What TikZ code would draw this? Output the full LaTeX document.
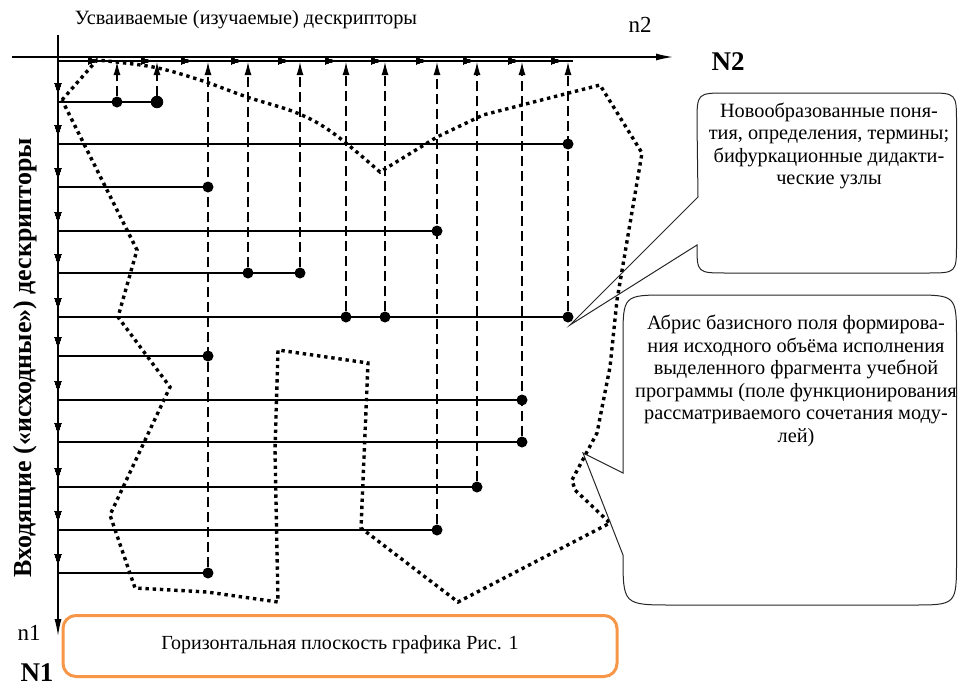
\documentclass[tikz,border=0pt]{standalone}
\usepackage{fontspec}
\setmainfont{Liberation Serif}
\usetikzlibrary{arrows.meta,decorations.markings}
\definecolor{boxorange}{HTML}{F79646}
\begin{document}
\begin{tikzpicture}[x=1pt,y=-1pt,
  axis/.style={line width=1.3pt},
  hline/.style={line width=1.1pt},
  dotn/.style={circle,fill=black,inner sep=0pt,minimum size=11pt},
  vdash/.style={line width=1.1pt,dash pattern=on 10pt off 5pt,-{Latex[length=13pt,width=7pt]}},
  contour/.style={line width=3.4pt,dash pattern=on 3.4pt off 3.8pt},
  callout/.style={line width=1pt,draw=black!85},
  ctext/.style={align=center,font=\fontsize{20.3}{22.5}\selectfont,inner sep=0pt},
  lbl/.style={inner sep=0pt,font=\fontsize{20.3}{22}\selectfont},
  nlbl/.style={inner sep=0pt,font=\fontsize{23}{25}\selectfont},
  blbl/.style={inner sep=0pt,font=\fontsize{27}{30}\selectfont\bfseries},
  sa/.style={postaction={decorate},decoration={markings,mark=at position #1 with {\arrow{Latex[length=12pt,width=7pt]}}}},
]
\useasboundingbox (0,0) rectangle (958,688);

% dotted contour
\draw[contour] (62,100) -- plot[smooth,tension=0.6] coordinates {(97,60) (153,67) (200,80) (247,97) (297,113) (333,133) (380,172)}
  -- (437,137) -- (483,115) -- (600,85) -- (642,153) -- (617,300) -- (610,367) -- (597,433) -- (572,480) -- (575,490)
  -- (610,523) -- (458,602) -- (361,528) -- (368,363) -- (278,350) -- (275,450) -- (278,602) -- (207,592) -- (135,588)
  -- (110,515) -- (170,387) -- (118,317) -- (137,250) -- cycle;

% axes
\coordinate (h0) at (12,57);
\coordinate (h1) at (673,57);
\draw[axis,-{Latex[length=17pt,width=7pt]}] (h0) -- (h1);
\coordinate (s0) at (58,61);
\coordinate (s1) at (573,61);
\draw[hline,sa=42pt,sa=95pt,sa=135pt,sa=185pt,sa=232pt,sa=279pt,sa=325pt,sa=370pt,sa=417pt,sa=462pt,sa=505pt] (s0) -- (s1);
\coordinate (v0) at (58,35);
\coordinate (v1) at (58,636);
\draw[axis,-{Latex[length=17pt,width=7pt]},sa=60pt,sa=102pt,sa=145pt,sa=189pt,sa=231pt,sa=275pt,sa=314pt,sa=358pt,sa=400pt,sa=445pt,sa=488pt,sa=531pt] (v0) -- (v1);

% dots
\node[dotn] (d1a) at (117,102) {};
\node[dotn,minimum size=12.5pt] (d1b) at (157,102) {};
\node[dotn] (d2) at (568,144) {};
\node[dotn] (d3) at (208,187) {};
\node[dotn] (d4) at (437,231) {};
\node[dotn] (d5a) at (248,273) {};
\node[dotn] (d5b) at (300,273) {};
\node[dotn] (d6a) at (346,317) {};
\node[dotn] (d6b) at (385,317) {};
\node[dotn] (d6c) at (568,317) {};
\node[dotn] (d7) at (208,356) {};
\node[dotn] (d8) at (522,400) {};
\node[dotn] (d9) at (522,442) {};
\node[dotn] (d10) at (477,487) {};
\node[dotn] (d11) at (437,530) {};
\node[dotn] (d12) at (208,573) {};

% horizontal lines
\foreach \y/\d in {102/d1b,144/d2,187/d3,231/d4,273/d5b,317/d6c,356/d7,400/d8,442/d9,487/d10,530/d11,573/d12}{
  \coordinate (a\d) at (58,\y);
  \draw[hline] (a\d) -- (\d.center);
}

% dashed up arrows
\foreach \x/\d in {117/d1a,157/d1b,208/d12,248/d5a,300/d5b,346/d6a,385/d6b,437/d11,477/d10,522/d9,568/d6c}{
  \coordinate (t\d) at (\x,62);
  \draw[vdash] (\d) -- (t\d);
}

% labels
\node[lbl] (top) at (246,20) {Усваиваемые (изучаемые) дескрипторы};
\node[nlbl] (n2) at (640,25) {n2};
\node[blbl] (N2) at (728,62) {N2};
\node[nlbl] (n1) at (29,633) {n1};
\node[blbl] (N1) at (37,673) {N1};
\node[inner sep=0pt,rotate=90,font=\fontsize{26}{28}\selectfont\bfseries] (vl) at (25,358) {Входящие («исходные») дескрипторы};

% bottom box
\node[draw=boxorange,line width=3pt,rounded corners=13pt,minimum width=554pt,minimum height=61pt,inner sep=0pt,font=\fontsize{20}{22}\selectfont] (hb) at (340,646) {\raisebox{6pt}{Горизонтальная плоскость графика Рис. 1}};

% callouts
\coordinate (p1) at (570,325);
\draw[callout] (698,197) -- (697,123) .. controls (697,93) .. (727,93) -- (927,93) .. controls (956.5,93) .. (956.5,123)
  -- (956.5,243) .. controls (956.5,273) .. (927,273) -- (727,273) .. controls (697,273) .. (697,245) -- (p1) -- cycle;
\node[ctext] (c1) at (829,146) {Новообразованные поня-\\тия, определения, термины;\\бифуркационные дидакти-\\ческие узлы};

\coordinate (p2) at (583,453);
\draw[callout] (623,473) -- (623,340) .. controls (623,295) .. (668,295) -- (912,295) .. controls (956.5,295) .. (956.5,340)
  -- (956.5,560) .. controls (956.5,605) .. (912,605) -- (673,605) .. controls (623,605) .. (623,555) -- (p2) -- cycle;
\node[ctext] (c2) at (796,381) {Абрис базисного поля формирова-\\ния исходного объёма исполнения\\выделенного фрагмента учебной\\программы (поле функционирования\\рассматриваемого сочетания моду-\\лей)};
\end{tikzpicture}
\end{document}
